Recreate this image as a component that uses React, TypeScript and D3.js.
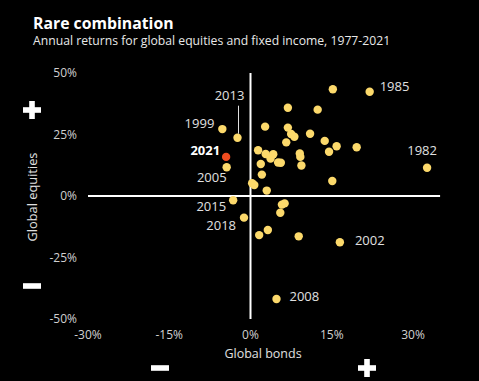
import React from "react";
import * as d3 from "d3";

const years: number[] = [
  1977, 1978, 1979, 1980, 1981, 1982, 1983, 1984, 1985, 1986, 1987, 1988, 1989, 1990, 1991,
  1992, 1993, 1994, 1995, 1996, 1997, 1998, 1999, 2000, 2001, 2002, 2003, 2004, 2005, 2006,
  2007, 2008, 2009, 2010, 2011, 2012, 2013, 2014, 2015, 2016, 2017, 2018, 2019, 2020, 2021,
];

// Unlabelled points (bond return %, equity return %)
const bondReturns: number[] = [
  15.2, 6.9, 12.4, 2.7, 6.9, 7.5, 8.1, 11.0, 6.6, 13.7, 15.9, 19.6, 14.5, 1.4, 2.8, 4.2,
  3.7, 5.1, 5.6, 9.1, 9.2, 9.4, 1.9, 2.1, 15.1, 0.3, 0.7, 3.0, 5.8, 6.3, 5.5, 3.2, 1.6, 8.9,
];
const equityReturns: number[] = [
  43.4, 35.9, 35.1, 28.2, 27.8, 25.2, 24.1, 25.3, 21.8, 22.4, 20.2, 19.8, 18.0, 18.6, 17.1, 17.0,
  15.2, 13.6, 13.5, 17.3, 15.9, 12.4, 13.0, 8.7, 6.1, 5.2, 4.5, 2.2, -3.5, -3.0, -6.8, -13.8, -15.9, -16.4,
];

// Labelled years
const labelYears: string[] = ["1985", "1982", "2002", "2008", "1999", "2013", "2021", "2005", "2015", "2018"];
const labelBonds: number[] = [22.0, 32.6, 16.5, 4.8, -5.2, -2.4, -4.5, -4.4, -3.2, -1.2];
const labelEquities: number[] = [42.4, 11.5, -18.8, -41.9, 27.2, 23.7, 15.9, 11.7, -1.7, -8.8];

const xTicks: number[] = [-30, -15, 0, 15, 30];
const yTicks: number[] = [50, 25, 0, -25, -50];

// label placement (layout, not data)
const labelLayout: Record<string, { dx: number; dy: number; anchor: string }> = {
  "1985": { dx: 10, dy: -5, anchor: "start" },
  "1982": { dx: -5, dy: -17, anchor: "middle" },
  "2002": { dx: 15, dy: -2, anchor: "start" },
  "2008": { dx: 13, dy: -3, anchor: "start" },
  "1999": { dx: -8, dy: -6, anchor: "end" },
  "2013": { dx: -8, dy: -42, anchor: "middle" },
  "2021": { dx: -6, dy: -6, anchor: "end" },
  "2005": { dx: 0, dy: 10, anchor: "end" },
  "2015": { dx: -7, dy: 6, anchor: "end" },
  "2018": { dx: -8, dy: 8, anchor: "end" },
};

const YELLOW = "#FCD96B";
const RED = "#EE4B1F";
const FONT = "'Open Sans', 'Noto Sans', sans-serif";

export default function App() {
  if (typeof document !== "undefined") {
    document.body.style.margin = "0";
    document.body.style.background = "#000";
  }
  const W = 479;
  const H = 381;
  const x = d3.scaleLinear().domain([-30, 30]).range([88, 413]);
  const y = d3.scaleLinear().domain([-50, 50]).range([319, 73]);
  const xLineMax = 35;

  const plus = (cx: number, cy: number) => (
    <g>
      <rect x={cx - 9} y={cy - 2.8} width={18} height={5.6} fill="#fff" />
      <rect x={cx - 2.8} y={cy - 9} width={5.6} height={18} fill="#fff" />
    </g>
  );
  const minus = (cx: number, cy: number) => (
    <rect x={cx - 9} y={cy - 2.8} width={18} height={5.6} fill="#fff" />
  );

  return (
    <svg width={W} height={H} style={{ position: "absolute", left: 0, top: 0, background: "#000" }}>
      <rect width={W} height={H} fill="#000" />
      <text x={33} y={29} fill="#fff" fontFamily={FONT} fontWeight={700} fontSize={15.8}>
        Rare combination
      </text>
      <text x={33} y={45} fill="#e8e8e8" fontFamily={FONT} fontSize={12.2}>
        Annual returns for global equities and fixed income, 1977-2021
      </text>

      {yTicks.map((t) => (
        <text key={"y" + t} x={77} y={y(t)} dy="0.35em" textAnchor="end" fill="#d0d0d0" fontFamily={FONT} fontSize={12}>
          {t}%
        </text>
      ))}
      {xTicks.map((t) => (
        <text key={"x" + t} x={x(t)} y={335} dy="0.35em" textAnchor="middle" fill="#d0d0d0" fontFamily={FONT} fontSize={12}>
          {t}%
        </text>
      ))}

      <line x1={x(-30)} x2={x(xLineMax)} y1={y(0)} y2={y(0)} stroke="#fff" strokeWidth={2} />
      <line x1={x(0)} x2={x(0)} y1={y(50)} y2={y(-50)} stroke="#fff" strokeWidth={2} />

      <text x={263} y={354} dy="0.35em" textAnchor="middle" fill="#e0e0e0" fontFamily={FONT} fontSize={12.5}>
        Global bonds
      </text>
      <text
        transform={`translate(33,197) rotate(-90)`}
        dy="0.35em"
        textAnchor="middle"
        fill="#e0e0e0"
        fontFamily={FONT}
        fontSize={12.8}
      >
        Global equities
      </text>

      {plus(32, 110)}
      {minus(32, 286)}
      {minus(160, 368)}
      {plus(367, 368)}

      {bondReturns.map((b, i) => (
        <circle key={"p" + i} cx={x(b)} cy={y(equityReturns[i])} r={4.2} fill={YELLOW} />
      ))}
      {labelYears.map((yr, i) => (
        <circle
          key={"l" + yr}
          cx={x(labelBonds[i])}
          cy={y(labelEquities[i])}
          r={4.2}
          fill={yr === "2021" ? RED : YELLOW}
        />
      ))}

      {labelYears.map((yr, i) => {
        const L = labelLayout[yr];
        const cx = x(labelBonds[i]);
        const cy = y(labelEquities[i]);
        return (
          <g key={"t" + yr}>
            {yr === "2013" && (
              <line x1={cx + 1} x2={cx + 1} y1={cy + L.dy + 10} y2={cy - 4} stroke="#e0e0e0" strokeWidth={1} />
            )}
            <text
              x={cx + L.dx}
              y={cy + L.dy}
              dy="0.35em"
              textAnchor={L.anchor}
              fill={yr === "2021" ? "#fff" : "#e0e0e0"}
              fontWeight={yr === "2021" ? 700 : 400}
              fontFamily={FONT}
              fontSize={13}
            >
              {yr}
            </text>
          </g>
        );
      })}
    </svg>
  );
}
